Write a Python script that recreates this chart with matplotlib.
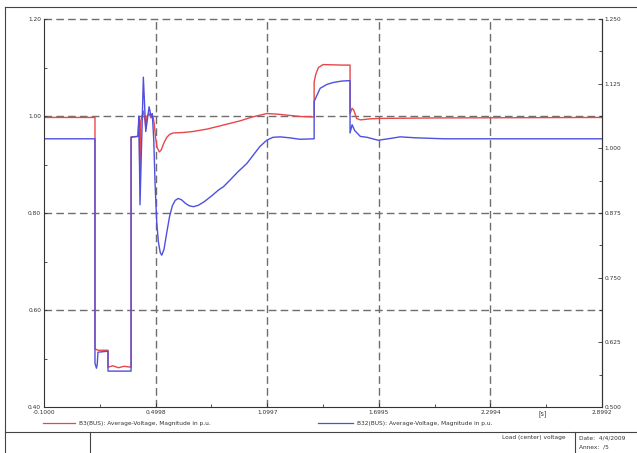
import matplotlib
matplotlib.use("Agg")
import matplotlib.pyplot as plt
from matplotlib.lines import Line2D
from matplotlib.ticker import FixedLocator

# ---------------- data ----------------
red_t = [-0.1, 0.174, 0.174, 0.190, 0.244, 0.244, 0.27, 0.30, 0.33, 0.368, 0.368,
         0.405, 0.410, 0.416, 0.420, 0.434, 0.443, 0.447, 0.454, 0.465, 0.475,
         0.485, 0.492, 0.500, 0.508, 0.520, 0.530, 0.545, 0.560, 0.575, 0.594,
         0.65, 0.70, 0.776, 0.85, 0.954, 1.02, 1.097, 1.15, 1.276, 1.352, 1.352,
         1.36, 1.375, 1.40, 1.50, 1.545, 1.545, 1.556, 1.565, 1.58, 1.60, 1.65,
         1.70, 2.0, 2.8992]
red_v = [0.997, 0.997, 0.520, 0.517, 0.517, 0.482, 0.485, 0.481, 0.484, 0.482, 0.957,
         0.958, 0.990, 0.872, 0.990, 1.010, 0.990, 0.975, 1.000, 1.005, 0.996,
         1.000, 0.985, 0.955, 0.935, 0.926, 0.930, 0.945, 0.956, 0.962, 0.965,
         0.966, 0.968, 0.973, 0.980, 0.990, 0.998, 1.005, 1.004, 0.999, 0.998, 1.070,
         1.085, 1.100, 1.106, 1.105, 1.105, 1.005, 1.016, 1.012, 0.995, 0.992, 0.994,
         0.995, 0.996, 0.997]

blue_t = [-0.1, 0.174, 0.174, 0.182, 0.186, 0.190, 0.244, 0.244, 0.368, 0.368,
          0.405, 0.410, 0.416, 0.434, 0.447, 0.465, 0.475, 0.482, 0.490, 0.497,
          0.506, 0.515, 0.525, 0.533, 0.545, 0.560, 0.575, 0.590, 0.605, 0.622,
          0.640, 0.660, 0.680, 0.703, 0.730, 0.760, 0.800, 0.840, 0.864, 0.900,
          0.940, 0.990, 1.030, 1.060, 1.097, 1.130, 1.169, 1.220, 1.276, 1.352,
          1.352, 1.384, 1.42, 1.454, 1.50, 1.545, 1.545, 1.556, 1.57, 1.60,
          1.637, 1.696, 1.75, 1.814, 1.90, 1.975, 2.05, 2.8992]
blue_v = [0.953, 0.953, 0.490, 0.480, 0.487, 0.513, 0.515, 0.474, 0.474, 0.956,
          0.958, 1.000, 0.817, 1.080, 0.968, 1.019, 1.000, 1.005, 0.950, 0.860,
          0.780, 0.740, 0.718, 0.713, 0.725, 0.760, 0.793, 0.815, 0.826, 0.830,
          0.827, 0.820, 0.815, 0.813, 0.816, 0.823, 0.835, 0.848, 0.854, 0.868,
          0.884, 0.902, 0.922, 0.937, 0.950, 0.956, 0.957, 0.955, 0.952, 0.953,
          1.030, 1.057, 1.065, 1.069, 1.072, 1.073, 0.965, 0.982, 0.970, 0.958,
          0.956, 0.950, 0.953, 0.957, 0.955, 0.954, 0.953, 0.953]

x_ticks = [-0.1000, 0.4998, 1.0997, 1.6995, 2.2994, 2.8992]
x_tick_labels = ["-0.1000", "0.4998", "1.0997", "1.6995", "2.2994", "2.8992"]
y_left_ticks = [0.40, 0.60, 0.80, 1.00, 1.20]
y_right_ticks = [0.500, 0.625, 0.750, 0.875, 1.000, 1.125, 1.250]

red_label = "B3(BUS): Average-Voltage, Magnitude in p.u."
blue_label = "B32(BUS): Average-Voltage, Magnitude in p.u."

RED = "#e8474a"
BLUE = "#4f4fe0"
GRID = "#6e6e6e"

W, H = 637, 453
fig = plt.figure(figsize=(W / 100, H / 100), dpi=100)
fs = 4.2

def fx(px):
    return px / W

def fy(py):
    return 1 - py / H

ax = fig.add_axes([fx(44), fy(407), fx(602) - fx(44), fy(19) - fy(407)])
ax.plot(red_t, red_v, color=RED, lw=1.0)
ax.plot(blue_t, blue_v, color=BLUE, lw=1.0)

ax.set_xlim(x_ticks[0], x_ticks[-1])
ax.set_ylim(0.4, 1.2)
ax.set_xticks(x_ticks)
ax.set_xticklabels(x_tick_labels)
mids_x = [(a + b) / 2 for a, b in zip(x_ticks[:-1], x_ticks[1:])]
ax.xaxis.set_minor_locator(FixedLocator(mids_x))
ax.set_yticks(y_left_ticks)
ax.set_yticklabels(["%.2f" % v for v in y_left_ticks])
mids_y = [(a + b) / 2 for a, b in zip(y_left_ticks[:-1], y_left_ticks[1:])]
ax.yaxis.set_minor_locator(FixedLocator(mids_y))

ax.tick_params(axis="both", which="both", direction="in", labelsize=fs,
               colors="#333333", width=0.6)
ax.tick_params(axis="x", which="major", length=3, pad=2)
ax.tick_params(axis="x", which="minor", length=2)
ax.tick_params(axis="y", which="major", length=2.5, pad=2)
ax.tick_params(axis="y", which="minor", length=2)

dash = (5.5, 3.0)
for xv in x_ticks[1:-1]:
    ax.axvline(xv, color=GRID, lw=1.0, dashes=dash, zorder=0)
for yv in [0.6, 0.8, 1.0, 1.2]:
    ax.axhline(yv, color=GRID, lw=1.0, dashes=dash, zorder=0, clip_on=False)

for s in ["left", "bottom", "right"]:
    ax.spines[s].set_color("#333333")
    ax.spines[s].set_linewidth(0.8)
ax.spines["top"].set_visible(False)

ax2 = ax.twinx()
ax2.set_ylim(0.5, 1.25)
ax2.set_yticks(y_right_ticks)
ax2.set_yticklabels(["%.3f" % v for v in y_right_ticks])
mids_r = [(a + b) / 2 for a, b in zip(y_right_ticks[:-1], y_right_ticks[1:])]
ax2.yaxis.set_minor_locator(FixedLocator(mids_r))
ax2.tick_params(axis="y", which="both", direction="in", labelsize=fs,
                colors="#333333", width=0.6, pad=2)
ax2.tick_params(axis="y", which="major", length=3)
ax2.tick_params(axis="y", which="minor", length=2)
for s in ["left", "bottom", "top"]:
    ax2.spines[s].set_visible(False)
ax2.spines["right"].set_color("#333333")
ax2.spines["right"].set_linewidth(0.8)

fig.text(fx(543), fy(414), "[s]", fontsize=fs + 0.5, color="#333333",
         ha="center", va="center")

# legend
fig.add_artist(Line2D([fx(43), fx(75)], [fy(423), fy(423)], color=RED, lw=0.9))
fig.text(fx(79), fy(423), red_label, fontsize=fs, color="#333333", va="center")
fig.add_artist(Line2D([fx(318), fx(353)], [fy(423), fy(423)], color=BLUE, lw=0.9))
fig.text(fx(357), fy(423), blue_label, fontsize=fs, color="#333333", va="center")

# frame / title block
fc = "#444444"
fig.add_artist(Line2D([fx(5), fx(5)], [fy(7), fy(453)], color=fc, lw=0.8))
fig.add_artist(Line2D([fx(5), fx(637)], [fy(7), fy(7)], color=fc, lw=0.8))
fig.add_artist(Line2D([fx(5), fx(637)], [fy(432), fy(432)], color=fc, lw=0.8))
fig.add_artist(Line2D([fx(90), fx(90)], [fy(432), fy(453)], color=fc, lw=0.8))
fig.add_artist(Line2D([fx(575), fx(575)], [fy(432), fy(453)], color=fc, lw=0.8))
fig.text(fx(566), fy(438), "Load (center) voltage", fontsize=fs, color="#333333",
         ha="right", va="center")
fig.text(fx(579), fy(438), "Date:  4/4/2009", fontsize=fs, color="#333333",
         ha="left", va="center")
fig.text(fx(579), fy(447), "Annex:  /5", fontsize=fs, color="#333333",
         ha="left", va="center")

fig.savefig("out.png", dpi=100)
